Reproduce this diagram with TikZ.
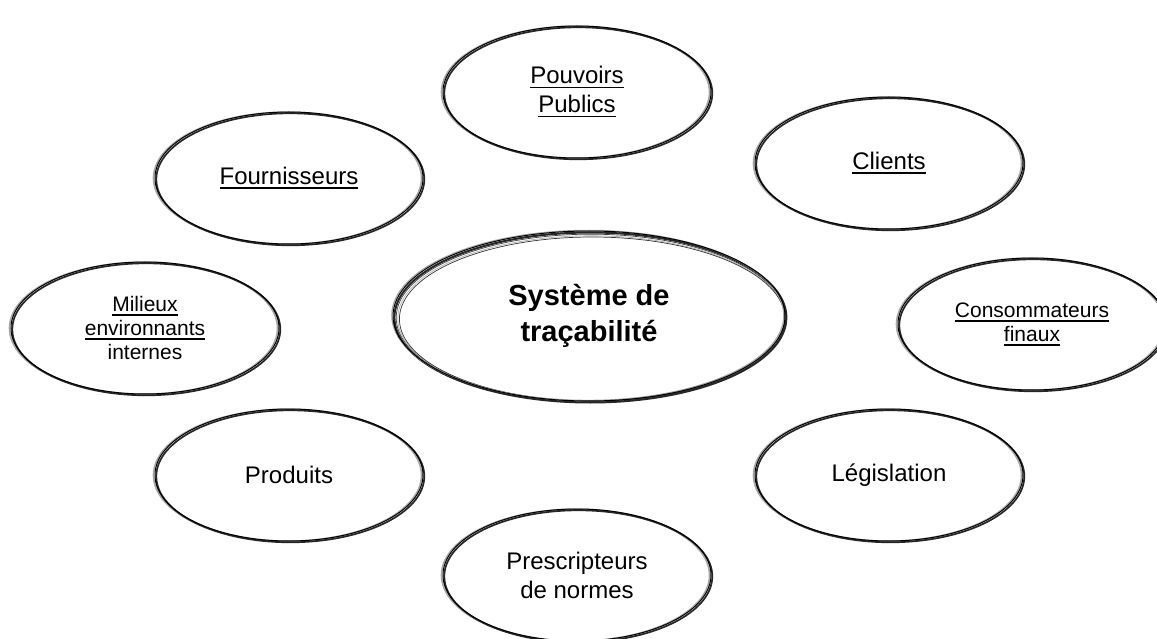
\documentclass[tikz,border=0pt]{standalone}
\usepackage{fontspec}
\setmainfont{Liberation Sans}
\usetikzlibrary{shapes.geometric}
\pgfdeclarelayer{bg}
\pgfsetlayers{bg,main}
\newsavebox\ulbox
\newcommand\myul[1]{\sbox\ulbox{#1}\rlap{\rule[-4.5pt]{\wd\ulbox}{1.8pt}}\usebox\ulbox}
\newcommand\bevel[3]{%
  \draw[shadeA] ([shift={(-1.5,0.2)}]#1.center) ellipse [x radius=#2, y radius=#3];
  \draw[shadeB] ([shift={(1.3,1.3)}]#1.center) ellipse [x radius=#2, y radius=#3];}
\begin{document}
\begin{tikzpicture}[x=1pt,y=-1pt,
  bub/.style={ellipse, draw=black, line width=1pt, minimum width=268pt, minimum height=132pt,
    inner sep=0pt, align=center, font=\fontsize{24}{29}\selectfont},
  smalltxt/.style={font=\fontsize{21}{24}\selectfont},
  core/.style={ellipse, draw=black, line width=1pt, minimum width=392pt, minimum height=170pt,
    inner sep=0pt, align=center, font=\fontsize{29}{36}\selectfont\bfseries},
  shadeA/.style={draw=gray!70, line width=1.6pt},
  shadeB/.style={draw=black!85, line width=1.7pt},
  ring/.style={line width=0.7pt}]
\clip (0,0) rectangle (1157,639);

\node[bub] (pouv) at (577,92) {\myul{Pouvoirs}\\\myul{Publics}};
\node[bub] (cli) at (889,163) {\myul{Clients}};
\node[bub] (four) at (289,178) {\myul{Fournisseurs}};
\node[bub, smalltxt] (mil) at (145,328) {\myul{Milieux}\\\myul{environnants}\\internes};
\node[bub, smalltxt] (cons) at (1032,324) {\myul{Consommateurs}\\\myul{finaux}};
\node[bub] (prod) at (289,475) {Produits};
\node[bub] (leg) at (889,475) {Législation};
\node[bub] (presc) at (577,575) {Prescripteurs\\de normes};
\node[core] (sys) at (589,316) {Système de\\traçabilité};

\begin{pgfonlayer}{bg}
  \fill[white] (0,0) rectangle (1157,639);
  \foreach \n in {pouv,cli,four,mil,cons,prod,leg,presc}{\bevel{\n}{134}{66}}
  \draw[ring, gray!60] ([shift={(0.8,0.8)}]sys.center) ellipse [x radius=195.2, y radius=84.2];
  \draw[ring, black!75] ([shift={(1.6,1.6)}]sys.center) ellipse [x radius=194.4, y radius=83.4];
  \draw[ring, gray!60] ([shift={(2.4,2.4)}]sys.center) ellipse [x radius=193.6, y radius=82.6];
  \draw[ring, black!80] ([shift={(3.2,3.0)}]sys.center) ellipse [x radius=192.8, y radius=82.0];
  \draw[shadeB, line width=2pt] ([shift={(1.4,1.5)}]sys.center) ellipse [x radius=196, y radius=85];
  \draw[shadeA, line width=1.2pt] ([shift={(-1.2,-0.6)}]sys.center) ellipse [x radius=196, y radius=85];
\end{pgfonlayer}
\end{tikzpicture}
\end{document}
